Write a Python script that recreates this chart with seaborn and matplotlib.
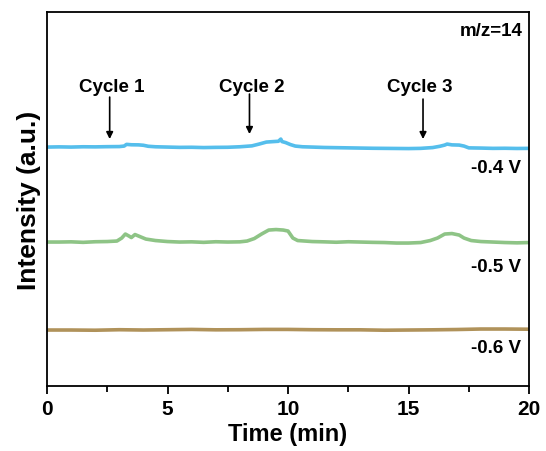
import matplotlib
matplotlib.use("Agg")
import matplotlib.pyplot as plt
import seaborn as sns
import pandas as pd
from matplotlib.ticker import MultipleLocator

# ---- data (arbitrary units) ----
blue_t = [0, 0.5, 1.0, 1.5, 2.0, 2.5, 3.0, 3.2, 3.3, 3.5, 3.8, 4.0, 4.2, 4.5, 5.0, 5.5, 6.0, 6.5,
          7.0, 7.5, 8.0, 8.5, 8.8, 9.1, 9.4, 9.6, 9.7, 9.75, 9.9, 10.1, 10.3, 10.6, 11.0, 11.5,
          12.0, 12.5, 13.0, 13.5, 14.0, 14.5, 15.0, 15.5, 16.0, 16.3, 16.5, 16.6, 16.8, 17.1,
          17.3, 17.5, 18.0, 18.5, 19.0, 19.5, 20.0]
blue_v = [0.00, 0.02, 0.00, 0.03, 0.02, 0.04, 0.05, 0.10, 0.27, 0.23, 0.22, 0.18, 0.08, 0.03, 0.00,
          -0.03, -0.02, -0.05, -0.03, -0.02, 0.03, 0.12, 0.30, 0.50, 0.55, 0.58, 0.80, 0.55, 0.45,
          0.25, 0.10, 0.03, 0.00, -0.04, -0.06, -0.08, -0.10, -0.12, -0.13, -0.14, -0.15, -0.13,
          -0.05, 0.08, 0.20, 0.30, 0.22, 0.20, 0.10, -0.08, -0.10, -0.13, -0.12, -0.14, -0.13]

green_t = [0, 0.5, 1.0, 1.5, 2.0, 2.5, 2.9, 3.1, 3.25, 3.4, 3.5, 3.65, 3.8, 4.1, 4.5, 5.0, 5.5,
           6.0, 6.5, 7.0, 7.5, 8.0, 8.3, 8.6, 8.9, 9.2, 9.5, 9.8, 10.0, 10.2, 10.4, 11.0, 11.5,
           12.0, 12.5, 13.0, 13.5, 14.0, 14.5, 15.0, 15.5, 15.9, 16.2, 16.5, 16.8, 17.1, 17.3,
           17.6, 18.0, 18.5, 19.0, 19.5, 20.0]
green_v = [0.00, 0.00, 0.02, -0.03, 0.03, 0.05, 0.10, 0.40, 0.80, 0.60, 0.45, 0.75, 0.60, 0.30,
           0.15, 0.05, 0.00, 0.02, -0.03, 0.03, 0.00, 0.02, 0.10, 0.35, 0.80, 1.20, 1.25, 1.20,
           1.10, 0.40, 0.15, 0.05, 0.02, -0.02, 0.03, 0.00, -0.03, -0.05, -0.10, -0.10, -0.05,
           0.15, 0.40, 0.80, 0.85, 0.70, 0.40, 0.15, 0.05, 0.00, -0.05, -0.08, -0.05]

brown_t = [0, 1, 2, 3, 4, 5, 6, 7, 8, 9, 10, 11, 12, 13, 14, 15, 16, 17, 18, 19, 20]
brown_v = [0.00, 0.00, -0.02, 0.03, 0.00, 0.03, 0.06, 0.02, 0.03, 0.06, 0.06, 0.03, 0.02, 0.02,
           -0.02, 0.00, 0.02, 0.05, 0.10, 0.10, 0.08]

potentials = ["-0.4 V", "-0.5 V", "-0.6 V"]
offsets = [23.9, 14.4, 5.6]
cycle_labels = ["Cycle 1", "Cycle 2", "Cycle 3"]
cycle_times = [2.6, 8.4, 15.6]

colors = ["#55BEEC", "#8EC486", "#B0925A"]

frames = []
for name, t, v, off in zip(potentials, [blue_t, green_t, brown_t],
                           [blue_v, green_v, brown_v], offsets):
    frames.append(pd.DataFrame({"Time": t, "Intensity": [x + off for x in v], "Potential": name}))
df = pd.concat(frames, ignore_index=True)

sns.set_theme(style="ticks")
plt.rcParams["font.family"] = ["Liberation Sans", "DejaVu Sans"]
plt.rcParams["font.weight"] = "bold"
plt.rcParams["text.color"] = "black"
plt.rcParams["axes.labelcolor"] = "black"
plt.rcParams["xtick.color"] = "black"
plt.rcParams["ytick.color"] = "black"

fig = plt.figure(figsize=(5.46, 4.52), dpi=100)
ax = fig.add_axes([0.0861, 0.1438, 0.969 - 0.0861, 0.971 - 0.1438])

sns.lineplot(data=df, x="Time", y="Intensity", hue="Potential", palette=colors,
             linewidth=2.6, legend=False, ax=ax, estimator=None, sort=False)

ax.set_xlim(0, 20)
ax.set_ylim(0, 37.4)
ax.xaxis.set_major_locator(MultipleLocator(5))
ax.xaxis.set_minor_locator(MultipleLocator(2.5))
ax.set_yticks([])
ax.tick_params(axis="x", which="major", direction="out", length=6, width=1.3,
               labelsize=15, pad=3, colors="black")
ax.tick_params(axis="x", which="minor", direction="out", length=4, width=1.3, colors="black")
for lab in ax.get_xticklabels():
    lab.set_fontweight("bold")
for sp in ax.spines.values():
    sp.set_linewidth(1.3)
    sp.set_color("black")

ax.set_xlabel("Time (min)", fontsize=17, fontweight="bold", labelpad=3, color="black")
ax.set_ylabel("Intensity (a.u.)", fontsize=19, fontweight="bold", labelpad=4, color="black")

# potential labels
label_y = [21.9, 12.0, 3.9]
for name, y in zip(potentials, label_y):
    ax.text(19.65, y, name, ha="right", va="center", fontsize=13.5, fontweight="bold",
            color="black")

ax.text(19.75, 35.6, "m/z=14", ha="right", va="center", fontsize=13.5, fontweight="bold",
        color="black")

# cycle arrows
arrow_tops = [28.9, 29.2, 28.7]
arrow_bots = [24.7, 25.2, 24.7]
text_x = [2.7, 8.5, 15.45]
for lab, tx, ax_t, top, bot in zip(cycle_labels, text_x, cycle_times, arrow_tops, arrow_bots):
    ax.text(tx, 30.0, lab, ha="center", va="center", fontsize=13.5, fontweight="bold",
            color="black")
    ax.annotate("", xy=(ax_t, bot), xytext=(ax_t, top),
                arrowprops=dict(arrowstyle="-|>", color="black", lw=1.2,
                                mutation_scale=10, shrinkA=0, shrinkB=0))

fig.savefig("out.png", dpi=100)
